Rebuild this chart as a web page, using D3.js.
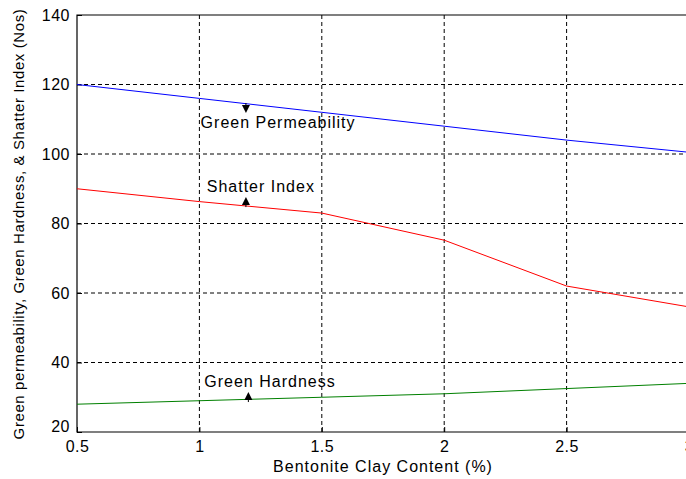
<!DOCTYPE html>
<html>
<head>
<meta charset="utf-8">
<script src="https://cdn.jsdelivr.net/npm/d3@7"></script>
<style>
  body { margin: 0; background: #fff; }
  text { font-family: "Liberation Sans", Arial, sans-serif; fill: #000; }
</style>
</head>
<body>
<div id="chart-area"></div>
<script>
// ---------------- data ----------------
const clay = [0.5, 1, 1.5, 2, 2.5, 3];
const permeability = [120, 116, 112, 108, 104, 100.5];
const shatter = [90, 86.3, 83, 75.2, 62, 56];
const hardness = [28, 29, 30, 31, 32.5, 34];
const xTicks = [0.5, 1, 1.5, 2, 2.5, 3];
const yTicks = [20, 40, 60, 80, 100, 120, 140];

// annotations: label, text x, text y (data), arrow x, arrow tip y, arrow direction
const notes = [
  { label: "Green Permeability", tx: 1.005, ty: 107.5, ax: 1.19, tip: 111.8, dir: "down" },
  { label: "Shatter Index", tx: 1.03, ty: 89.1, ax: 1.19, tip: 87.6, dir: "up" },
  { label: "Green Hardness", tx: 1.02, ty: 32.9, ax: 1.2, tip: 31.5, dir: "up" }
];

const W = 686, H = 479;
const margin = { left: 77, top: 15, right: -3, bottom: 47 };
const width = W - margin.left - margin.right;
const height = H - margin.top - margin.bottom;

const svg = d3.select("#chart-area").append("svg")
  .attr("width", W)
  .attr("height", H);

svg.append("rect").attr("width", W).attr("height", H).attr("fill", "#fff");

const g = svg.append("g")
  .attr("transform", `translate(${margin.left}, ${margin.top})`);

const x = d3.scaleLinear().domain([0.5, 3]).range([0, width]);
const y = d3.scaleLinear().domain([20, 140]).range([height, 0]);

// ----------------- grid -----------------
g.selectAll(".vgrid").data(xTicks.slice(1))
  .enter().append("line")
    .attr("x1", d => x(d)).attr("x2", d => x(d))
    .attr("y1", 0).attr("y2", height)
    .attr("stroke", "#000").attr("stroke-dasharray", "4,3");

g.selectAll(".hgrid").data(yTicks.slice(1, -1))
  .enter().append("line")
    .attr("x1", 0).attr("x2", width)
    .attr("y1", d => y(d)).attr("y2", d => y(d))
    .attr("stroke", "#000").attr("stroke-dasharray", "4,3");

// ----------------- axes -----------------
const xAxis = d3.axisBottom(x).tickValues(xTicks).tickSize(-5).tickPadding(9)
  .tickFormat(d3.format("~g"));
const xg = g.append("g").attr("transform", `translate(0, ${height})`).call(xAxis);

const yAxis = d3.axisLeft(y).tickValues(yTicks).tickSize(-5).tickPadding(7)
  .tickFormat(d3.format("d"));
const yg = g.append("g").call(yAxis);

[xg, yg].forEach(a => {
  a.select(".domain").remove();
  a.selectAll("line").attr("stroke", "#000");
  a.selectAll("text")
    .attr("font-size", "16px")
    .attr("letter-spacing", "0.5px")
    .attr("font-family", "Liberation Sans, Arial, sans-serif");
});
yg.selectAll("text").filter(d => d === 20).attr("dy", "-0.05em");

// box (top, left, bottom)
g.append("path")
  .attr("d", `M${width},0H0V${height}H${width}`)
  .attr("fill", "none").attr("stroke", "#000").attr("stroke-width", 1.2);

// ----------------- lines -----------------
const series = [
  { values: permeability, color: "#0000ff" },
  { values: shatter, color: "#ff0000" },
  { values: hardness, color: "#008000" }
];

const line = d3.line()
  .x((d, i) => x(clay[i]))
  .y(d => y(d));

g.selectAll(".series").data(series)
  .enter().append("path")
    .attr("d", s => line(s.values))
    .attr("fill", "none")
    .attr("stroke", s => s.color)
    .attr("stroke-width", 1);

// ----------------- annotations -----------------
notes.forEach(n => {
  g.append("text")
    .attr("x", x(n.tx)).attr("y", y(n.ty))
    .attr("font-size", "16px")
    .attr("letter-spacing", "1px")
    .text(n.label);

  const ax = x(n.ax), ty = y(n.tip);
  const s = n.dir === "down" ? -1 : 1;
  g.append("line")
    .attr("x1", ax).attr("x2", ax)
    .attr("y1", ty + s * 4).attr("y2", ty + s * 10)
    .attr("stroke", "#000");
  g.append("path")
    .attr("d", `M${ax},${ty}L${ax - 4},${ty + s * 8}L${ax + 4},${ty + s * 8}Z`)
    .attr("fill", "#000");
});

// ----------------- labels -----------------
svg.append("text")
  .attr("x", margin.left + x(1.75))
  .attr("y", 472)
  .attr("text-anchor", "middle")
  .attr("font-size", "16px")
  .attr("letter-spacing", "1px")
  .text("Bentonite Clay Content (%)");

svg.append("text")
  .attr("transform", "translate(24, 224) rotate(-90)")
  .attr("text-anchor", "middle")
  .attr("font-size", "15px")
  .attr("letter-spacing", "0.6px")
  .text("Green permeability, Green Hardness, & Shatter Index (Nos)");
</script>
</body>
</html>
